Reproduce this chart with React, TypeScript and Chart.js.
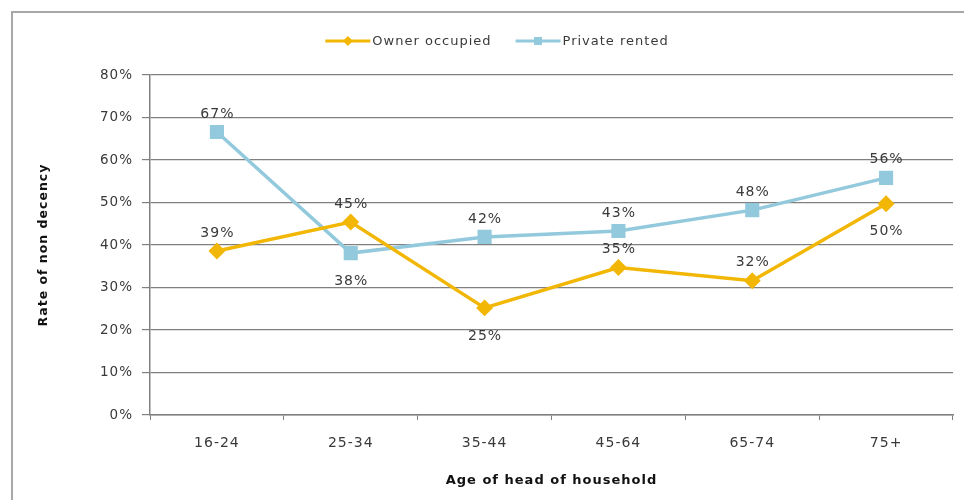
import React, { useEffect, useRef } from "react";
import { Chart, registerables } from "chart.js";

Chart.register(...registerables);

const categories = ["16-24", "25-34", "35-44", "45-64", "65-74", "75+"];
const ownerOccupied = [38.6, 45.4, 25.2, 34.7, 31.6, 49.7];
const privateRented = [66.6, 38.1, 41.9, 43.3, 48.2, 55.8];
const ownerLabelPos = ["above", "above", "below", "above", "above", "below"];
const privateLabelPos = ["above", "below", "above", "above", "above", "above"];
const yTicks = [0, 10, 20, 30, 40, 50, 60, 70, 80];

const FONT = "'DejaVu Sans', 'Open Sans', sans-serif";
const TEXT = "#3a3a3a";
const GOLD = "#F2B705";
const BLUE = "#93C9DC";
const GRID = "#808080";

const spacingPlugin = {
  id: "letterSpacing",
  beforeUpdate(chart: any) {
    chart.ctx.letterSpacing = "1px";
  },
  beforeLayout(chart: any) {
    chart.ctx.letterSpacing = "1px";
  },
  beforeDraw(chart: any) {
    chart.ctx.letterSpacing = "1px";
  },
};

const dataLabelPlugin = {
  id: "dataLabels",
  afterDatasetsDraw(chart: any) {
    const ctx = chart.ctx;
    ctx.save();
    ctx.letterSpacing = "1px";
    ctx.font = `14px ${FONT}`;
    ctx.fillStyle = TEXT;
    ctx.textAlign = "center";
    ctx.textBaseline = "middle";
    chart.data.datasets.forEach((ds: any, di: number) => {
      const meta = chart.getDatasetMeta(di);
      meta.data.forEach((pt: any, i: number) => {
        const pos = ds.labelPos[i];
        const y = pos === "above" ? pt.y - 18 : pt.y + 28;
        ctx.fillText(Math.round(ds.data[i]) + "%", pt.x + 0.5, y);
      });
    });
    ctx.restore();
  },
};

const legendPlugin = {
  id: "customLegend",
  afterDraw(chart: any) {
    const ctx = chart.ctx;
    ctx.save();
    ctx.letterSpacing = "1px";
    ctx.font = `13px ${FONT}`;
    ctx.textBaseline = "middle";
    ctx.textAlign = "left";
    const lineW = 45;
    const gap = 2;
    const itemGap = 24;
    const items = chart.data.datasets.map((ds: any) => ({
      ds,
      w: lineW + gap + ctx.measureText(ds.label).width,
    }));
    const total = items.reduce((s: number, it: any) => s + it.w, 0) + itemGap * (items.length - 1);
    let x = 497 - total / 2;
    const y = 41;
    items.forEach((it: any) => {
      const ds = it.ds;
      ctx.strokeStyle = ds.borderColor;
      ctx.lineWidth = 3;
      ctx.beginPath();
      ctx.moveTo(x, y);
      ctx.lineTo(x + lineW, y);
      ctx.stroke();
      ctx.fillStyle = ds.pointBackgroundColor;
      ctx.beginPath();
      const cx = x + lineW / 2;
      if (ds.pointStyle === "rect") {
        ctx.rect(cx - 4, y - 4, 8, 8);
      } else {
        ctx.moveTo(cx, y - 5);
        ctx.lineTo(cx + 5, y);
        ctx.lineTo(cx, y + 5);
        ctx.lineTo(cx - 5, y);
        ctx.closePath();
      }
      ctx.fill();
      ctx.fillStyle = TEXT;
      ctx.fillText(ds.label, x + lineW + gap, y + 1);
      x += it.w + itemGap;
    });
    ctx.restore();
  },
};

export default function App() {
  const ref = useRef<HTMLCanvasElement>(null);
  useEffect(() => {
    if (!ref.current) return;
    const chart = new Chart(ref.current, {
      type: "line",
      data: {
        labels: categories,
        datasets: [
          {
            label: "Owner occupied",
            data: ownerOccupied,
            labelPos: ownerLabelPos,
            borderColor: GOLD,
            backgroundColor: GOLD,
            pointBackgroundColor: GOLD,
            pointBorderColor: GOLD,
            borderWidth: 3.5,
            pointStyle: "rectRot",
            pointRadius: 6,
            tension: 0,
          } as any,
          {
            label: "Private rented",
            data: privateRented,
            labelPos: privateLabelPos,
            borderColor: BLUE,
            backgroundColor: BLUE,
            pointBackgroundColor: BLUE,
            pointBorderColor: BLUE,
            borderWidth: 3.5,
            pointStyle: "rect",
            pointRadius: 7.5,
            tension: 0,
          } as any,
        ],
      },
      options: {
        animation: false,
        responsive: false,
        layout: { padding: { left: 34, right: 11, top: 75, bottom: 8 } },
        plugins: {
          legend: { display: false },
          tooltip: { enabled: false },
        },
        scales: {
          x: {
            type: "category",
            offset: true,
            afterFit: (s: any) => {
              s.height = 500 - 8 - 415;
            },
            grid: {
              offset: true,
              drawOnChartArea: false,
              drawTicks: true,
              tickLength: 5,
              color: GRID,
            },
            border: { color: GRID, width: 1.5 },
            ticks: {
              padding: 15,
              color: TEXT,
              font: { family: FONT, size: 14 },
            },
            title: {
              display: true,
              text: "Age of head of household",
              color: "#111",
              font: { family: FONT, size: 13, weight: "bold" },
              padding: 4,
            },
          },
          y: {
            min: 0,
            max: 80,
            afterFit: (s: any) => {
              s.width = 150 - 34;
            },
            afterBuildTicks: (s: any) => {
              s.ticks = yTicks.map((v) => ({ value: v }));
            },
            grid: {
              color: GRID,
              lineWidth: 1.2,
              tickLength: 8,
            },
            border: { color: GRID, width: 1.5 },
            ticks: {
              padding: 9,
              color: TEXT,
              font: { family: FONT, size: 13.5 },
              callback: (v: any) => v + "%",
            },
            title: {
              display: true,
              text: "Rate of non decency",
              color: "#111",
              font: { family: FONT, size: 12.5, weight: "bold" },
              padding: 2,
            },
          },
        },
      } as any,
      plugins: [spacingPlugin, dataLabelPlugin, legendPlugin],
    });
    return () => chart.destroy();
  }, []);

  return (
    <div style={{ position: "fixed", left: 0, top: 0, width: 964, height: 500, overflow: "hidden", background: "#fff" }}>
      <div
        style={{
          position: "absolute",
          left: 11,
          top: 11,
          width: 1100,
          height: 700,
          border: "2px solid #a8a8a8",
          boxSizing: "border-box",
        }}
      />
      <canvas ref={ref} width={964} height={500} style={{ position: "absolute", left: 0, top: 0 }} />
    </div>
  );
}
